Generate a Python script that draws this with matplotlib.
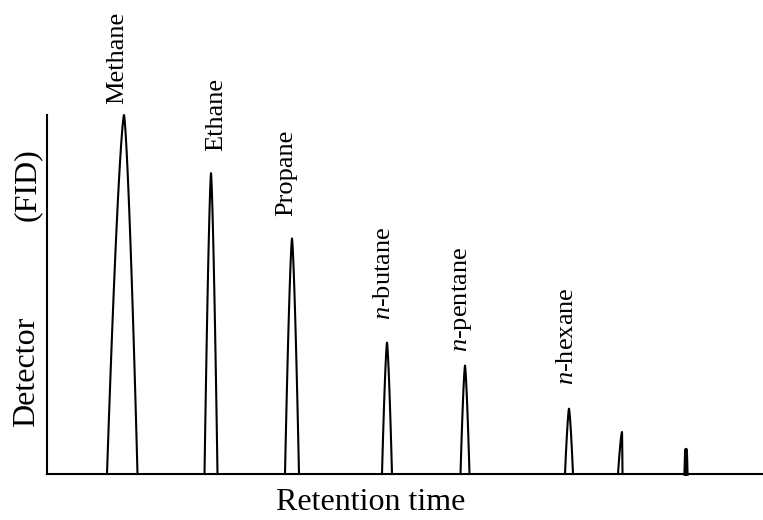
import numpy as np
import matplotlib.pyplot as plt

plt.rcParams['font.family'] = ['Liberation Serif', 'DejaVu Serif']
plt.rcParams['mathtext.fontset'] = 'custom'
plt.rcParams['mathtext.rm'] = 'Liberation Serif'
plt.rcParams['mathtext.it'] = 'Liberation Serif:italic'

# peaks of the chromatogram (retention time in arbitrary units, relative height)
names = ['Methane', 'Ethane', 'Propane', '$n$-butane', '$n$-pentane', '$n$-hexane', '', '']
centers = [77, 164, 245, 340, 418, 522, 575, 639]
heights = [1.0, 0.838, 0.656, 0.366, 0.302, 0.182, 0.117, 0.068]
left_w = [17, 6.5, 7, 5, 4.5, 4, 4, 0.8]
right_w = [13.5, 6.5, 7, 5, 4.5, 4, 0.5, 0.8]

# where the peak names sit
label_x = [70, 169, 239, 337, 415, 520]
label_y = [1.031, 0.899, 0.718, 0.430, 0.341, 0.249]

fig = plt.figure(figsize=(7.63, 5.2), dpi=100)
ax = fig.add_axes([47 / 763, 46 / 520, 716 / 763, 359 / 520])

for c, h, wl, wr in zip(centers, heights, left_w, right_w):
    xl = np.linspace(c - wl, c, 60)
    xr = np.linspace(c, c + wr, 60)
    yl = h * (1 - np.abs((xl - c) / wl) ** 1.4)
    yr = h * (1 - np.abs((xr - c) / wr) ** 1.4)
    lw = 1.5 if wl > 1 else 2.6
    ax.plot(np.r_[xl, xr], np.r_[yl, yr], color='black', lw=lw,
            clip_on=False, solid_joinstyle='round')

for name, x, y in zip(names, label_x, label_y):
    ax.text(x, y, name, rotation=90, ha='center', va='bottom',
            fontsize=19, clip_on=False)

ax.set_xlim(0, 716)
ax.set_ylim(0, 1.0)
ax.set_xticks([])
ax.set_yticks([])
for s in ['top', 'right']:
    ax.spines[s].set_visible(False)
for s in ['left', 'bottom']:
    ax.spines[s].set_linewidth(1.5)

fig.text(371 / 763, 1 - 503 / 520, 'Retention time', ha='center', va='center', fontsize=23)
fig.text(27 / 763, 1 - 372 / 520, 'Detector', rotation=90, ha='center', va='center', fontsize=23)
fig.text(27 / 763, 1 - 185 / 520, '(FID)', rotation=90, ha='center', va='center', fontsize=23)

fig.savefig('out.png', dpi=100)
